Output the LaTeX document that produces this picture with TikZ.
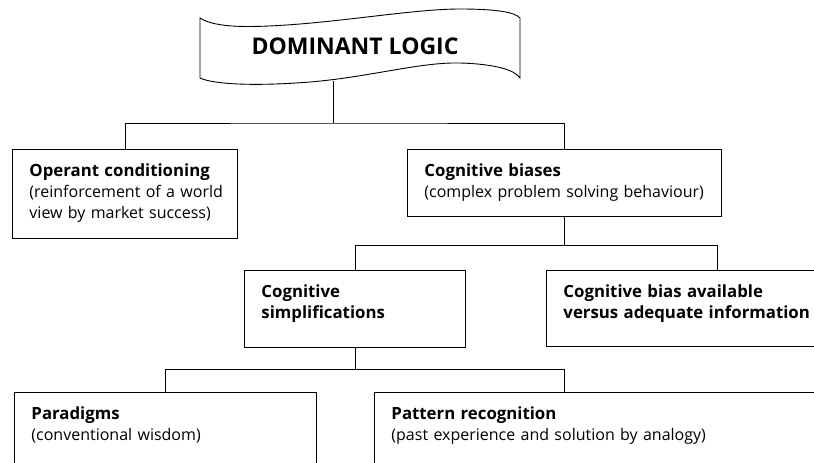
\documentclass[tikz,border=0pt]{standalone}
\usepackage{fontspec}
\setmainfont{Open Sans}
\newcommand\hd[1]{{\fontsize{16.8}{21}\selectfont\bfseries #1}}
\begin{document}
\begin{tikzpicture}[x=1pt,y=-1pt,line width=0.9pt,
  box/.style={draw,anchor=north west,align=left,inner xsep=17pt,inner ysep=15pt,
    text height=12pt,font=\fontsize{16}{21}\selectfont}]
\useasboundingbox (0,0) rectangle (814,463);
\clip (0,0) rectangle (814,463);
\draw (200,18) .. controls (215,28) and (250,28) .. (300,24)
  .. controls (360,19) and (420,9) .. (460,9)
  .. controls (495,9) and (515,12) .. (520,18) -- (520,78)
  .. controls (515,70) and (495,64) .. (460,63)
  .. controls (420,62) and (370,77) .. (310,82)
  .. controls (260,86) and (215,85) .. (200,78) -- cycle;
\node (T) at (355,46) {\fontsize{23}{28}\selectfont\bfseries DOMINANT LOGIC};
\coordinate (T1) at (333,81);
\coordinate (J1) at (333,123);
\node[box,text width=191pt,text depth=47pt] (OC) at (12,149)
  {\hd{Operant conditioning}\\\mbox{(reinforcement of a world}\\view by market success)};
\node[box,text width=280pt,text depth=25pt] (CB) at (407,149)
  {\hd{Cognitive biases}\\\mbox{(complex problem solving behaviour)}};
\node[box,text width=187pt,text depth=35pt] (CS) at (244,270)
  {\hd{Cognitive}\\\hd{simplifications}};
\node[box,text width=308pt,text depth=34pt] (CA) at (546,270)
  {\hd{Cognitive bias available}\\\hd{versus adequate information}};
\node[box,text width=268pt,text depth=60pt] (PD) at (14,392)
  {\hd{Paradigms}\\(conventional wisdom)};
\node[box,text width=436pt,text depth=60pt] (PR) at (374,392)
  {\hd{Pattern recognition}\\(past experience and solution by analogy)};
\draw (T1) -- (J1);
\draw (OC.north) |- (J1) -| (CB.north);
\draw (CB.south) -- ++(0,29) coordinate (J2);
\draw (CS.north) |- (J2) -| (CA.north);
\draw (CS.south) -- ++(0,22) coordinate (J3);
\draw (PD.north) |- (J3) -| ([xshift=190pt]PR.north west);
\end{tikzpicture}
\end{document}
